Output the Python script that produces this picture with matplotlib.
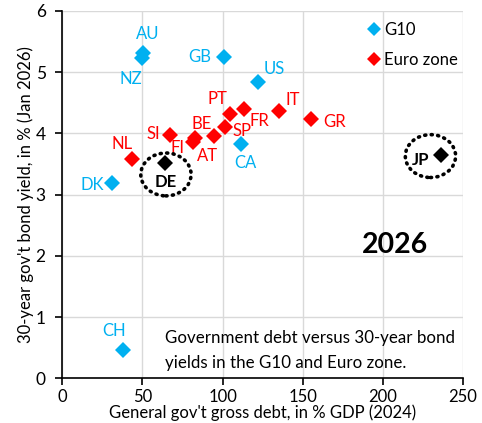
import matplotlib
matplotlib.use("Agg")
import matplotlib.pyplot as plt
from matplotlib.patches import Ellipse
from matplotlib.lines import Line2D

# ---- data ----
countries = ["AU", "NZ", "GB", "US", "CA", "DK", "CH",
             "PT", "FR", "IT", "GR", "SP", "AT", "BE", "FI", "SI", "NL",
             "DE", "JP"]
debt = [50.5, 49.7, 100.8, 122.2, 111.6, 31.2, 37.6,
        104.7, 113.5, 135.1, 155.2, 101.6, 94.6, 82.5, 81.3, 67.0, 43.6,
        63.8, 236.3]
yields = [5.31, 5.24, 5.25, 4.84, 3.83, 3.19, 0.46,
          4.31, 4.40, 4.37, 4.23, 4.10, 3.96, 3.92, 3.86, 3.97, 3.59,
          3.51, 3.64]
group = ["G10"] * 7 + ["Euro zone"] * 10 + ["Highlight"] * 2
xticks = [0, 50, 100, 150, 200, 250]
yticks = [0, 1, 2, 3, 4, 5, 6]

# ---- styles ----
colors = {"G10": "#00B0F0", "Euro zone": "#FF0000", "Highlight": "#000000"}
# label offsets in pixels (dx, dy up)
offsets = {
    "AU": (4, 19), "NZ": (-11, -21), "GB": (-24, 0), "US": (16, 13),
    "PT": (-13, 15), "FR": (15, -12), "IT": (14, 11), "GR": (23, -3),
    "SP": (17, -4), "AT": (-6, -20), "BE": (7, 14), "FI": (-15, -6),
    "SI": (-16, 1), "CA": (4, -19), "NL": (-10, 15), "DE": (1, -19),
    "DK": (-20, -2), "CH": (-9, 19), "JP": (-20, -5),
}

plt.rcParams["font.family"] = ["Lato", "DejaVu Sans"]

fig = plt.figure(figsize=(4.82, 4.23), dpi=100)
ax = fig.add_axes([0.1293, 0.1057, 0.8313, 0.8683])

px2pt = 72 / 100
for c, x, y, g in zip(countries, debt, yields, group):
    col = colors[g]
    ax.plot(x, y, marker="D", markersize=8.5, color=col, linestyle="none",
            zorder=3, markeredgewidth=0)
    dx, dy = offsets[c]
    ax.annotate(c, (x, y), xytext=(dx * px2pt, dy * px2pt),
                textcoords="offset points", ha="center", va="center",
                color=col, fontsize=12,
                fontweight="bold" if g == "Highlight" else "normal",
                zorder=4)

# dotted ellipses around DE and JP
for cx, cy in [(64.65, 3.33), (229.7, 3.63)]:
    e = Ellipse((cx, cy), 31.4, 0.70, fill=False, edgecolor="black",
                linewidth=2.6, linestyle=(0, (0.3, 1.5)), zorder=4)
    e.set_capstyle("round")
    ax.add_patch(e)

ax.set_xlim(0, 250)
ax.set_ylim(0, 6)
ax.set_xticks(xticks)
ax.set_yticks(yticks)
ax.grid(True, color="#D9D9D9", linewidth=1)
ax.set_axisbelow(True)
for s in ["top", "right"]:
    ax.spines[s].set_visible(False)
for s in ["left", "bottom"]:
    ax.spines[s].set_color("black")
    ax.spines[s].set_linewidth(1.2)
ax.tick_params(axis="both", direction="out", length=5, width=1.2,
               labelsize=12.5, colors="black")
ax.tick_params(axis="x", pad=3, labelsize=12)
ax.tick_params(axis="y", pad=7)

ax.set_xlabel("General gov't gross debt, in % GDP (2024)", fontsize=12,
              labelpad=-1)
ax.set_ylabel("30-year gov't bond yield, in % (Jan 2026)", fontsize=12,
              labelpad=1)

ax.text(207.4, 2.17, "2026", fontsize=20.5, fontweight="bold",
        ha="center", va="center")
ax.text(64, 0.45,
        "Government debt versus 30-year bond\nyields in the G10 and Euro zone.",
        fontsize=12.2, ha="left", va="center", linespacing=1.7)

handles = [Line2D([], [], marker="D", color=colors["G10"], linestyle="none",
                  markersize=7.5, markeredgewidth=0),
           Line2D([], [], marker="D", color=colors["Euro zone"], linestyle="none",
                  markersize=7.5, markeredgewidth=0)]
ax.legend(handles, ["G10", "Euro zone"], loc="upper right",
          bbox_to_anchor=(1.012, 0.997), frameon=False, fontsize=12,
          handletextpad=0.1, handlelength=1.0, labelspacing=0.85,
          borderaxespad=0.2)

fig.savefig("out.png", dpi=100)
